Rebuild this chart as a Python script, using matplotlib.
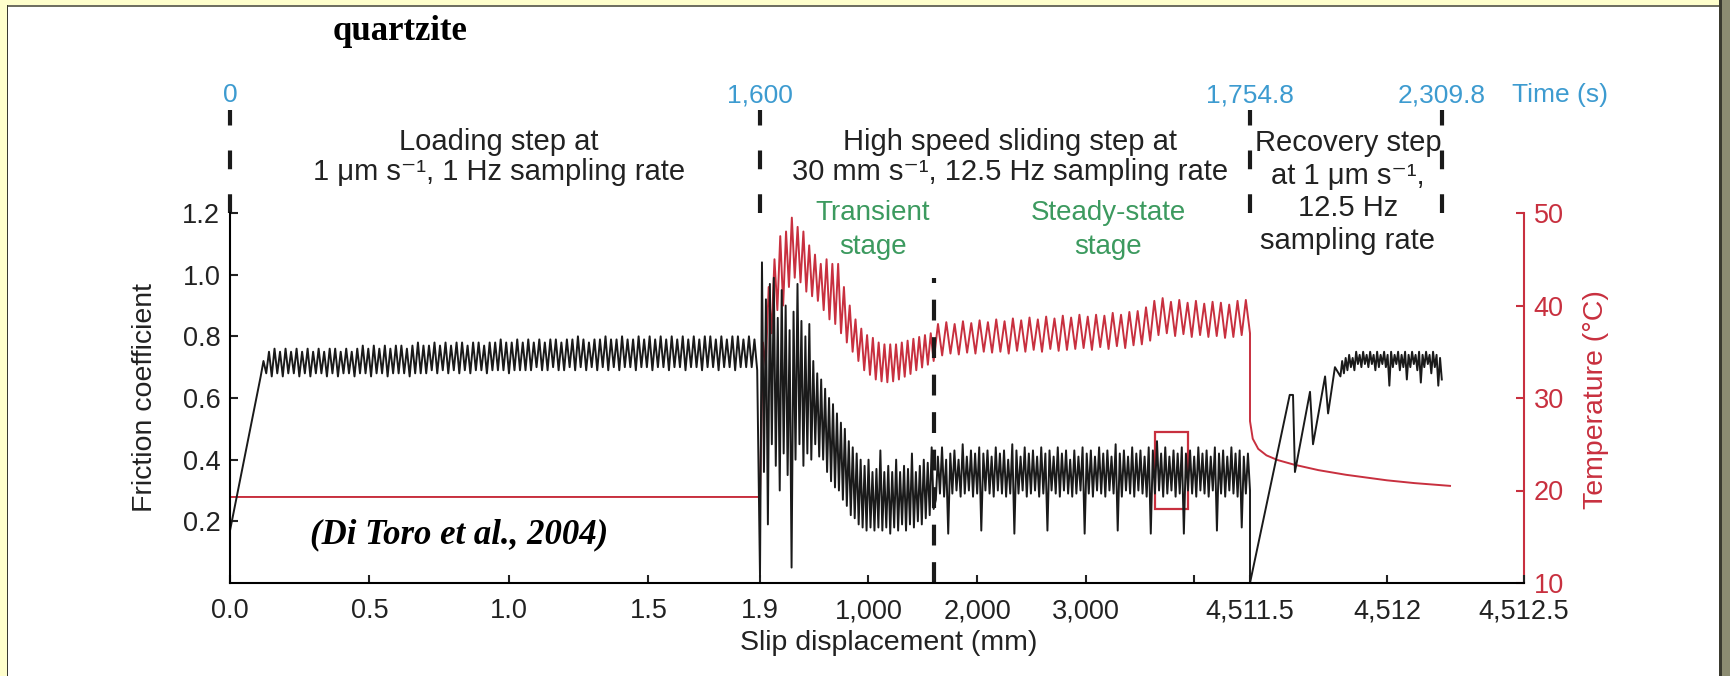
import numpy as np
import matplotlib
matplotlib.use("Agg")
import matplotlib.pyplot as plt
from matplotlib.patches import Rectangle
from matplotlib.transforms import blended_transform_factory

plt.rcParams['font.family'] = ['Liberation Sans', 'DejaVu Sans']

# broken slip axis: loading (mm), high speed (mm), recovery (mm)
slip_breaks = [0.0, 1.9, 4511.5, 4512.5]
break_pos = [0.0, 530.0, 1020.0, 1294.0]

xtick_vals = [0.0, 0.5, 1.0, 1.5, 1.9, 1000, 2000, 3000, 4000, 4511.5, 4512, 4512.5]
xtick_labels = ['0.0', '0.5', '1.0', '1.5', '1.9', '1,000', '2,000', '3,000', '',
                '4,511.5', '4,512', '4,512.5']
mu_ticks = [0.2, 0.4, 0.6, 0.8, 1.0, 1.2]
temp_ticks = [10, 20, 30, 40, 50]

time_slip = [0.0, 1.9, 4511.5, 4512.2]
time_labels = ['0', '1,600', '1,754.8', '2,309.8']
stage_split_slip = 1600.0

# friction, loading step
load_ramp_slip = [0.0, 0.11]
load_ramp_mu = [0.17, 0.67]
load_mu = [
    0.72, 0.68, 0.75, 0.67, 0.76, 0.68, 0.75, 0.67, 0.76, 0.68, 0.75, 0.68, 0.76, 0.67, 0.75, 0.68,
    0.76, 0.67, 0.75, 0.68, 0.76, 0.68, 0.75, 0.67, 0.76, 0.68, 0.76, 0.67, 0.75, 0.68,
    0.76, 0.68, 0.75, 0.67, 0.76, 0.68, 0.77, 0.68, 0.76, 0.67, 0.77, 0.68, 0.76, 0.68, 0.77, 0.67,
    0.76, 0.68, 0.77, 0.68, 0.77, 0.68, 0.76, 0.67, 0.77, 0.68, 0.78, 0.68, 0.77, 0.68,
    0.77, 0.69, 0.78, 0.68, 0.77, 0.69, 0.78, 0.68, 0.77, 0.69, 0.78, 0.68, 0.78, 0.69, 0.77, 0.68,
    0.78, 0.69, 0.78, 0.69, 0.77, 0.68, 0.78, 0.69, 0.78, 0.69, 0.79, 0.69, 0.78, 0.68,
    0.78, 0.69, 0.79, 0.69, 0.78, 0.69, 0.79, 0.69, 0.78, 0.70, 0.79, 0.69, 0.78, 0.69, 0.79, 0.70,
    0.79, 0.69, 0.78, 0.69, 0.79, 0.70, 0.79, 0.69, 0.80, 0.70, 0.79, 0.69, 0.78, 0.70,
    0.79, 0.69, 0.79, 0.70, 0.80, 0.69, 0.79, 0.70, 0.79, 0.69, 0.80, 0.70, 0.79, 0.70, 0.79, 0.69,
    0.80, 0.70, 0.79, 0.70, 0.80, 0.69, 0.79, 0.70, 0.80, 0.70, 0.79, 0.69, 0.80, 0.70,
    0.79, 0.70, 0.80, 0.69, 0.79, 0.70, 0.80, 0.70, 0.79, 0.69, 0.80, 0.70, 0.80, 0.70, 0.79, 0.69,
    0.80, 0.70, 0.79, 0.70, 0.80, 0.69, 0.80, 0.70, 0.79, 0.70, 0.80, 0.70, 0.79, 0.69,
]

# friction, high speed step: transient then steady state
fast_mu_transient = [
    0.02, 1.04, 0.36, 0.92, 0.19, 0.97, 0.45, 0.99, 0.38, 0.86, 0.30, 0.95, 0.42, 0.90, 0.35, 0.82,
    0.05, 0.88, 0.40, 0.97, 0.45, 0.85, 0.38, 0.80, 0.42, 0.84, 0.40, 0.72, 0.45, 0.68, 0.41, 0.66,
    0.40, 0.63, 0.36, 0.60, 0.33, 0.58, 0.31, 0.55, 0.30, 0.52, 0.27, 0.50, 0.25, 0.46, 0.22, 0.44,
    0.21, 0.42, 0.19, 0.40, 0.18, 0.38, 0.17, 0.40, 0.18, 0.36, 0.17, 0.37, 0.18, 0.43, 0.17, 0.36,
    0.18, 0.38, 0.16, 0.36, 0.18, 0.40, 0.17, 0.36, 0.19, 0.38, 0.17, 0.37, 0.19, 0.42, 0.18, 0.36,
    0.20, 0.38, 0.19, 0.40, 0.21, 0.39, 0.22, 0.44, 0.24,
]
fast_mu_steady = [
    0.27, 0.41, 0.29, 0.44, 0.28, 0.40, 0.16, 0.42, 0.29, 0.43, 0.30, 0.40, 0.28, 0.45, 0.29, 0.41,
    0.30, 0.43, 0.28, 0.42, 0.29, 0.44, 0.17, 0.42, 0.30, 0.43, 0.29, 0.41, 0.28, 0.44, 0.30, 0.42,
    0.29, 0.43, 0.28, 0.40, 0.29, 0.45, 0.16, 0.43, 0.29, 0.41, 0.30, 0.44, 0.28, 0.42, 0.29, 0.43,
    0.30, 0.41, 0.28, 0.44, 0.29, 0.42, 0.17, 0.43, 0.30, 0.41, 0.29, 0.44, 0.28, 0.42, 0.30, 0.43,
    0.29, 0.40, 0.28, 0.43, 0.29, 0.41, 0.30, 0.44, 0.16, 0.42, 0.29, 0.43, 0.28, 0.41, 0.30, 0.44,
    0.29, 0.42, 0.28, 0.43, 0.30, 0.41, 0.29, 0.45, 0.17, 0.42, 0.28, 0.43, 0.30, 0.41, 0.29, 0.44,
    0.28, 0.42, 0.30, 0.43, 0.29, 0.41, 0.28, 0.44, 0.16, 0.43, 0.29, 0.46, 0.30, 0.42, 0.28, 0.44,
    0.29, 0.41, 0.30, 0.43, 0.28, 0.42, 0.29, 0.44, 0.16, 0.42, 0.30, 0.43, 0.29, 0.41, 0.28, 0.44,
    0.30, 0.42, 0.29, 0.43, 0.28, 0.41, 0.30, 0.44, 0.17, 0.42, 0.29, 0.43, 0.28, 0.41, 0.30, 0.44,
    0.29, 0.42, 0.28, 0.43, 0.18, 0.41, 0.29, 0.42, 0.30,
]

# friction, recovery step
recov_ramp_slip = [4511.5, 4511.645, 4511.657, 4511.664, 4511.719, 4511.730, 4511.774, 4511.785, 4511.81]
recov_ramp_mu = [0.0, 0.61, 0.61, 0.36, 0.62, 0.45, 0.67, 0.55, 0.70]
recov_mu = [
    0.67, 0.72, 0.68, 0.73, 0.69, 0.74, 0.70, 0.73, 0.69, 0.75, 0.71, 0.74, 0.70, 0.75, 0.71, 0.74,
    0.70, 0.75, 0.71, 0.74, 0.69, 0.75, 0.70, 0.74, 0.71, 0.75, 0.70, 0.74, 0.64, 0.75, 0.70, 0.74,
    0.71, 0.75, 0.69, 0.74, 0.70, 0.75, 0.66, 0.74, 0.70, 0.75, 0.71, 0.74, 0.69, 0.75, 0.65, 0.74,
    0.70, 0.75, 0.71, 0.74, 0.68, 0.75, 0.70, 0.74, 0.64, 0.73, 0.66,
]

# temperature (deg C)
load_temp_slip = [0.0, 1.9]
load_temp = [19.3, 19.3]
fast_temp_transient = [
    19.3, 36.0, 33.5, 42.0, 37.0, 45.0, 39.5, 47.5, 40.0, 48.0, 42.0, 49.5, 43.0, 48.5, 42.5, 48.0,
    41.5, 46.5, 41.0, 45.5, 40.5, 44.5, 39.5, 45.0, 38.5, 44.5, 38.0, 44.5, 37.0, 42.0, 36.0, 40.0,
    35.0, 38.5, 34.0, 37.5, 33.0, 36.8, 32.5, 36.5, 32.0, 36.0, 31.8, 35.8, 31.7, 35.8, 31.8, 35.8,
    32.0, 36.0, 32.3, 36.2, 32.6, 36.4, 33.0, 36.6, 33.3, 36.8, 33.6, 37.0, 34.0,
]
fast_temp_steady = [
    38.0, 34.6, 38.2, 34.8, 38.0, 34.7, 38.3, 34.9, 38.1, 34.8, 38.4, 35.0, 38.2, 34.9, 38.5, 35.0,
    38.3, 34.8, 38.6, 35.1, 38.4, 35.0, 38.7, 35.2, 38.5, 35.0, 38.8, 35.3, 38.6, 35.1, 38.9, 35.2,
    38.7, 35.3, 39.0, 35.4, 38.8, 35.2, 39.0, 35.5, 38.9, 35.3, 39.2, 35.6, 39.0, 35.4, 39.3, 35.7,
    39.4, 35.8, 39.8, 36.2, 40.5, 36.8, 40.8, 37.0, 40.4, 36.7, 40.6, 36.9, 40.3, 36.6, 40.5, 36.8,
    40.2, 36.6, 40.4, 36.7, 40.3, 36.5, 40.1, 36.6, 40.5, 36.8, 40.6, 37.0,
]
recov_temp_slip = [4511.5, 4511.51, 4511.53, 4511.56, 4511.6, 4511.66, 4511.75, 4511.85, 4512.0, 4512.1, 4512.23]
recov_temp = [27.5, 25.6, 24.5, 23.8, 23.3, 22.8, 22.2, 21.7, 21.1, 20.8, 20.5]

# highlighted window on the steady state record
box_slip = [3640, 3940]
box_mu = [0.24, 0.49]

BLACK = '#1a1a1a'
RED = '#c8303f'
BLUE = '#3d9bd0'
GREEN = '#3c9a5f'
TXT = '#222222'

slip = np.concatenate([
    load_ramp_slip,
    np.linspace(0.12, 1.89, len(load_mu)),
    np.linspace(1.9, 1600, len(fast_mu_transient)),
    np.linspace(1620, 4511.5, len(fast_mu_steady)),
    recov_ramp_slip,
    np.linspace(4511.83, 4512.2, len(recov_mu)),
])
mu = np.concatenate([load_ramp_mu, load_mu, fast_mu_transient, fast_mu_steady, recov_ramp_mu, recov_mu])

temp_slip = np.concatenate([
    load_temp_slip,
    np.linspace(1.9, 1600, len(fast_temp_transient)),
    np.linspace(1640, 4511.5, len(fast_temp_steady)),
    recov_temp_slip,
])
temp = np.concatenate([load_temp, fast_temp_transient, fast_temp_steady, recov_temp])


def fwd(x):
    return np.interp(x, slip_breaks, break_pos)


def inv(p):
    return np.interp(p, break_pos, slip_breaks)


W, H = 1730, 676
fig = plt.figure(figsize=(W / 100, H / 100), dpi=100, facecolor='#ffffcc')


def frame_rect(x0, y0, w, h, color):
    fig.add_artist(Rectangle((x0 / W, 1 - (y0 + h) / H), w / W, h / H, transform=fig.transFigure,
                             facecolor=color, edgecolor='none', zorder=-10))


frame_rect(8, 6, 1712, 670, 'white')
frame_rect(7, 5, 1713, 1.5, '#707062')
frame_rect(7, 5, 1.5, 671, '#3a3a32')
frame_rect(1719, 0, 11, 676, '#8c8c72')
frame_rect(1719, 0, 2.5, 676, '#3a3a30')

ax = fig.add_axes([230 / W, (H - 583) / H, 1294 / W, 370 / H])
ax2 = ax.twinx()
ax.set_zorder(ax2.get_zorder() + 1)
ax.patch.set_visible(False)

ax.set_xscale('function', functions=(fwd, inv))
ax.set_xlim(0, 4512.5)
ax.set_ylim(0, 1.2)
ax2.set_ylim(10, 50)

ax2.plot(temp_slip, temp, color=RED, lw=1.4)
ax.plot(slip, mu, color=BLACK, lw=1.4)

# stage boundary inside the plot
ax.plot([stage_split_slip, stage_split_slip], [0, 0.99], color=BLACK, lw=3,
        linestyle=(0, (5, 4)))

# boundaries of the steps, above the plot
for xs in time_slip:
    ax.plot([xs, xs], [1.2, 1.535], color=BLACK, lw=3, linestyle=(0, (4.5, 6)),
            clip_on=False)

ax.add_patch(Rectangle((box_slip[0], box_mu[0]), box_slip[1] - box_slip[0], box_mu[1] - box_mu[0],
                       facecolor='none', edgecolor=RED, lw=1.6))

# axes styling
for s in ['top', 'right']:
    ax.spines[s].set_visible(False)
for s in ['top', 'left', 'bottom']:
    ax2.spines[s].set_visible(False)
ax.spines['left'].set_linewidth(1.5)
ax.spines['bottom'].set_linewidth(1.5)
ax2.spines['right'].set_color(RED)
ax2.spines['right'].set_linewidth(1.5)

ax.set_xticks(xtick_vals)
ax.set_xticklabels(xtick_labels)
ax.set_yticks(mu_ticks)
ax.set_yticklabels([f'{v:.1f}' for v in mu_ticks])
ax2.set_yticks(temp_ticks)
ax.tick_params(axis='x', direction='in', length=6, width=1.5, pad=11, labelsize=19.5, colors=TXT)
ax.tick_params(axis='y', direction='in', length=6, width=1.5, pad=7, labelsize=19.5, colors=TXT)
ax2.tick_params(axis='y', direction='in', length=6, width=1.5, pad=7, labelsize=19.5, colors=RED)

fig.text(889 / W, 1 - 643 / H, 'Slip displacement (mm)', ha='center', va='center', fontsize=20.5,
         color=TXT)
fig.text(145 / W, 1 - 398 / H, 'Friction coefficient', ha='center', va='center', rotation=90,
         fontsize=20.5, color=TXT)
fig.text(1596 / W, 1 - 400 / H, 'Temperature (\u00b0C)', ha='center', va='center', rotation=90,
         fontsize=20.5, color=RED)

# time axis labels on top
tr = blended_transform_factory(ax.transData, fig.transFigure)
for xs, lab in zip(time_slip, time_labels):
    ax.text(xs, 1 - 95 / H, lab, transform=tr, ha='center', va='center', fontsize=19, color=BLUE)
fig.text(1560 / W, 1 - 95 / H, 'Time (s)', ha='center', va='center', fontsize=19, color=BLUE)

# step descriptions
fig.text(499 / W, 1 - 157 / H, 'Loading step at\n1 \u03bcm s\u207b\u00b9, 1 Hz sampling rate',
         ha='center', va='center', fontsize=21, color=TXT, linespacing=1.12)
fig.text(1010 / W, 1 - 157 / H, 'High speed sliding step at\n30 mm s\u207b\u00b9, 12.5 Hz sampling rate',
         ha='center', va='center', fontsize=21, color=TXT, linespacing=1.12)
fig.text(1348 / W, 1 - 192 / H, 'Recovery step\nat 1 \u03bcm s\u207b\u00b9,\n12.5 Hz\nsampling rate',
         ha='center', va='center', fontsize=21, color=TXT, linespacing=1.22)
fig.text(873 / W, 1 - 230 / H, 'Transient\nstage', ha='center', va='center', fontsize=20,
         color=GREEN, linespacing=1.44)
fig.text(1108 / W, 1 - 230 / H, 'Steady-state\nstage', ha='center', va='center', fontsize=20,
         color=GREEN, linespacing=1.44)

fig.text(400 / W, 1 - 32 / H, 'quartzite', ha='center', va='center', fontsize=25,
         fontweight='bold', family=['Liberation Serif', 'DejaVu Serif'], color='black')
fig.text(459 / W, 1 - 535 / H, '(Di Toro et al., 2004)', ha='center', va='center', fontsize=25,
         fontweight='bold', fontstyle='italic', family=['Liberation Serif', 'DejaVu Serif'],
         color='black')

fig.savefig('out.png', dpi=100, facecolor=fig.get_facecolor())
